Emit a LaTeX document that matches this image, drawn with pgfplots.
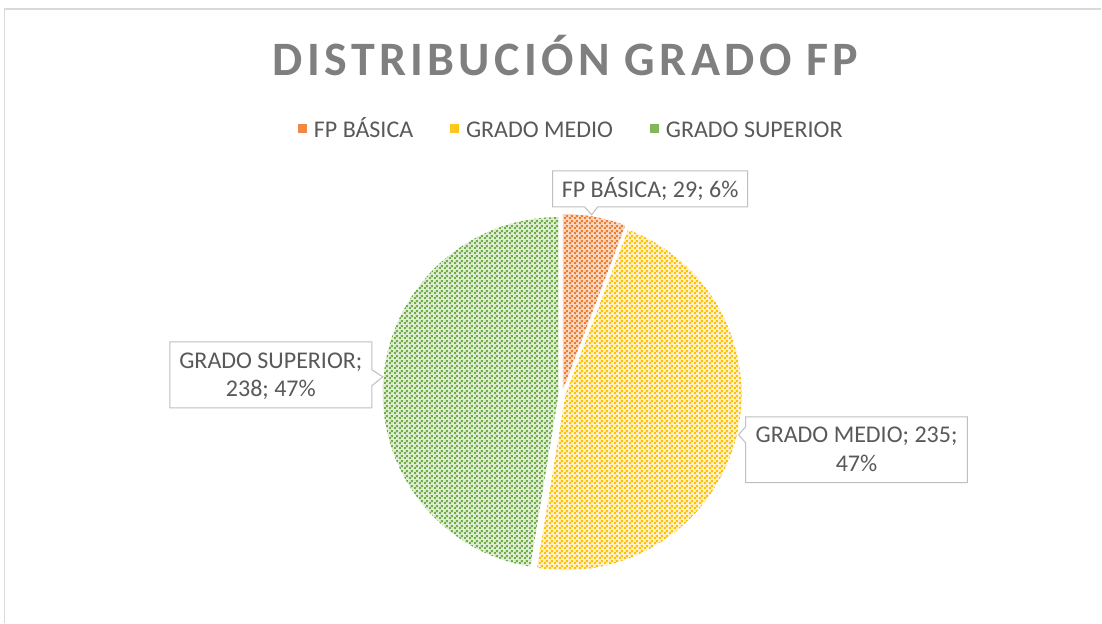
\documentclass[border=0pt]{standalone}
\usepackage{fontspec}
\setmainfont{Carlito}
\usepackage{pgfplots}
\pgfplotsset{compat=1.18}
\usepackage{pgfplotstable}
\usetikzlibrary{patterns.meta}

\definecolor{txt}{HTML}{595959}
\definecolor{ttl}{HTML}{7F7F7F}
\definecolor{frm}{HTML}{D9D9D9}
\definecolor{lbl}{HTML}{BFBFBF}
\definecolor{orfg}{HTML}{ED7D31}\definecolor{orbg}{HTML}{F9D5BE}
\definecolor{yefg}{HTML}{FFC000}\definecolor{yebg}{HTML}{FFF0C6}
\definecolor{grfg}{HTML}{70AD47}\definecolor{grbg}{HTML}{DDEDD2}

\pgfdeclarepattern{
  name=dashdiag,
  type=uncolored,
  bottom left={\pgfpoint{0pt}{0pt}},
  top right={\pgfpoint{5pt}{5pt}},
  tile size={\pgfpoint{5pt}{5pt}},
  code={
    \pgfpathrectangle{\pgfpoint{0pt}{0pt}}{\pgfpoint{2pt}{2pt}}
    \pgfpathrectangle{\pgfpoint{2pt}{2pt}}{\pgfpoint{2pt}{2pt}}
    \pgfusepath{fill}
  }
}

\pgfplotstableread{
label value
FP 29
Medio 235
Superior 238
}\piedata

\begin{document}
\begin{tikzpicture}
\pgfplotstablegetelem{0}{value}\of\piedata\edef\va{\pgfplotsretval}
\pgfplotstablegetelem{1}{value}\of\piedata\edef\vb{\pgfplotsretval}
\pgfplotstablegetelem{2}{value}\of\piedata\edef\vc{\pgfplotsretval}
\pgfmathsetmacro\tot{\va+\vb+\vc}
\pgfmathsetmacro\aA{90}
\pgfmathsetmacro\aB{\aA-360*(\va/\tot)}
\pgfmathsetmacro\aC{\aB-360*(\vb/\tot)}
\pgfmathsetmacro\aD{\aC-360*(\vc/\tot)}
\def\cx{562.5}\def\cy{229.5}\def\R{176pt}\def\ex{3.5}
\pgfmathsetmacro\mA{(\aA+\aB)/2}
\pgfmathsetmacro\mB{(\aB+\aC)/2}
\pgfmathsetmacro\mC{(\aC+\aD)/2}
\pgfmathsetmacro\xA{\cx+\ex*cos(\mA)}\pgfmathsetmacro\yA{\cy+\ex*sin(\mA)}
\pgfmathsetmacro\xB{\cx+\ex*cos(\mB)}\pgfmathsetmacro\yB{\cy+\ex*sin(\mB)}
\pgfmathsetmacro\xC{\cx+\ex*cos(\mC)}\pgfmathsetmacro\yC{\cy+\ex*sin(\mC)}
\begin{axis}[
  x=1pt, y=1pt, xmin=0, xmax=1102, ymin=0, ymax=623,
  scale only axis, hide axis, clip=false, disabledatascaling,
  legend columns=3,
  legend image code/.code={\fill[#1] (0pt,-2pt) rectangle (7.5pt,5.5pt);},
  legend style={at={(axis cs:298,501)}, anchor=north west, draw=none, fill=none,
    inner sep=0pt, font=\fontsize{24}{28}\selectfont, text=txt,
    nodes={inner sep=0pt, text height=15.5pt, text depth=0pt},
    /tikz/every odd column/.append style={column sep=8pt},
    /tikz/every even column/.append style={column sep=37pt}},
]
\addlegendimage{orfg!85!orbg}
\addlegendimage{yefg!85!yebg}
\addlegendimage{grfg!85!grbg}
\legend{FP BÁSICA, GRADO MEDIO, GRADO SUPERIOR}

% page extent
\path (axis cs:0,0) rectangle (axis cs:1102,623);
% frame
\draw[frm, line width=1.2pt] (axis cs:4.5,0) -- (axis cs:4.5,614) -- (axis cs:1102,614);

% title
\node[ttl, anchor=base, inner sep=0pt, font=\fontsize{48}{56}\selectfont\bfseries\addfontfeatures{LetterSpace=9}] at (axis cs:566,547) {DISTRIBUCIÓN GRADO FP};

% slices
\path[fill=orbg, postaction={pattern=dashdiag, pattern color=orfg}]
  (axis cs:\xA,\yA) -- ++(\aA:\R) arc[start angle=\aA, end angle=\aB, radius=\R] -- cycle;
\path[fill=yebg, postaction={pattern=dashdiag, pattern color=yefg}]
  (axis cs:\xB,\yB) -- ++(\aB:\R) arc[start angle=\aB, end angle=\aC, radius=\R] -- cycle;
\path[fill=grbg, postaction={pattern=dashdiag, pattern color=grfg}]
  (axis cs:\xC,\yC) -- ++(\aC:\R) arc[start angle=\aC, end angle=\aD, radius=\R] -- cycle;

% callouts
\draw[lbl, fill=white, line width=1pt] (axis cs:553,452) -- (axis cs:748,452) -- (axis cs:748,416)
  -- (axis cs:598,416) -- (axis cs:592,408) -- (axis cs:585,416) -- (axis cs:553,416) -- cycle;
\node[txt, anchor=base, inner sep=0pt, font=\fontsize{24}{28}\selectfont] at (axis cs:650.5,425) {FP BÁSICA; 29; 6\%};

\draw[lbl, fill=white, line width=1pt] (axis cs:170,281) -- (axis cs:372,281) -- (axis cs:372,253)
  -- (axis cs:383,246) -- (axis cs:372,237) -- (axis cs:372,215) -- (axis cs:170,215) -- cycle;
\node[txt, anchor=base, inner sep=0pt, font=\fontsize{24}{28}\selectfont] at (axis cs:271,254) {GRADO SUPERIOR;};
\node[txt, anchor=base, inner sep=0pt, font=\fontsize{24}{28}\selectfont] at (axis cs:271,226) {238; 47\%};

\draw[lbl, fill=white, line width=1pt] (axis cs:746,206) -- (axis cs:968,206) -- (axis cs:968,140)
  -- (axis cs:746,140) -- (axis cs:746,180) -- (axis cs:739,188) -- (axis cs:746,196) -- cycle;
\node[txt, anchor=base, inner sep=0pt, font=\fontsize{24}{28}\selectfont] at (axis cs:857,180) {GRADO MEDIO; 235;};
\node[txt, anchor=base, inner sep=0pt, font=\fontsize{24}{28}\selectfont] at (axis cs:857,151) {47\%};
\end{axis}
\end{tikzpicture}
\end{document}
